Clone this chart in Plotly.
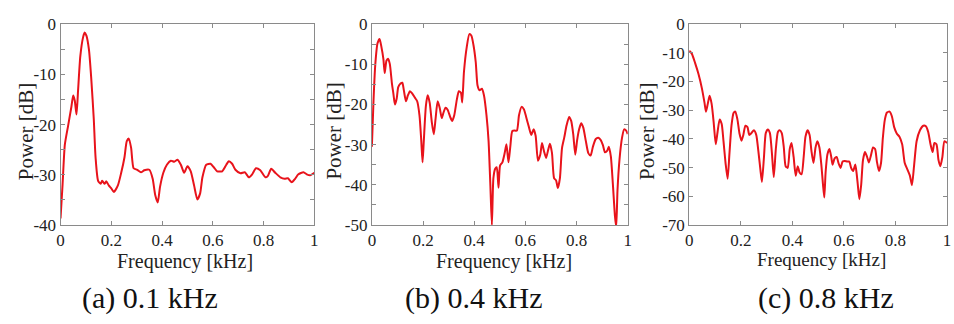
import plotly.graph_objects as go

# ---------------- data ----------------
freq_a = [0, 0.008, 0.017, 0.03, 0.043, 0.05, 0.056, 0.063, 0.069, 0.078, 0.089, 0.095, 0.102, 0.112,
          0.121, 0.131, 0.138, 0.148, 0.158, 0.164, 0.174, 0.18, 0.19, 0.2, 0.21, 0.226, 0.239, 0.252,
          0.261, 0.269, 0.278, 0.288, 0.302, 0.317, 0.33, 0.35, 0.363, 0.373, 0.383, 0.392, 0.405,
          0.419, 0.435, 0.448, 0.461, 0.474, 0.487, 0.5, 0.513, 0.526, 0.539, 0.55, 0.559, 0.574,
          0.591, 0.604, 0.617, 0.637, 0.653, 0.663, 0.676, 0.689, 0.709, 0.726, 0.742, 0.755, 0.77,
          0.787, 0.807, 0.817, 0.83, 0.846, 0.866, 0.883, 0.896, 0.911, 0.924, 0.937, 0.957, 0.97,
          0.983, 1.0]
power_a = [-38.7, -32, -24, -20.2, -16.4, -14.2, -15.2, -18, -13.3, -6.4, -2.6, -1.7, -2.3, -5.1,
           -10.8, -18.9, -26.5, -31.2, -31.8, -31.2, -31.8, -31.3, -32.1, -32.7, -33.4, -32.1, -29.6,
           -26.5, -23.3, -22.8, -24.6, -28.7, -29, -29.5, -29.1, -29, -30.8, -34, -35.5, -32.4, -29.6,
           -28, -27.2, -27.4, -27, -28, -29.6, -28.3, -29.3, -32.1, -34.9, -33.7, -30.5, -28,
           -27.8, -28.5, -29.3, -29.3, -28, -27.3, -27.8, -29, -29.7, -29.5, -30.5, -29.9, -28.7,
           -29.1, -30.5, -30.2, -28.8, -29.6, -30.5, -30.8, -30.7, -31.5, -30.8, -29.9, -29.5, -29.9,
           -30.1, -29.6]

freq_b = [0, 0.006, 0.013, 0.022, 0.03, 0.037, 0.045, 0.05, 0.057, 0.063, 0.07, 0.078, 0.084, 0.09,
          0.097, 0.103, 0.112, 0.119, 0.125, 0.133, 0.141, 0.149, 0.158, 0.168, 0.177, 0.186, 0.193,
          0.198, 0.203, 0.211, 0.218, 0.226, 0.234, 0.242, 0.249, 0.257, 0.265, 0.273, 0.28, 0.288,
          0.296, 0.306, 0.314, 0.322, 0.332, 0.34, 0.348, 0.353, 0.36, 0.371, 0.381, 0.389, 0.397,
          0.406, 0.413, 0.421, 0.43, 0.438, 0.448, 0.456, 0.463, 0.469, 0.475, 0.482, 0.488, 0.495,
          0.501, 0.51, 0.519, 0.526, 0.534, 0.541, 0.549, 0.559, 0.567, 0.575, 0.585, 0.594, 0.603,
          0.614, 0.623, 0.632, 0.64, 0.649, 0.658, 0.665, 0.673, 0.681, 0.689, 0.696, 0.704, 0.712,
          0.72, 0.727, 0.735, 0.743, 0.752, 0.761, 0.771, 0.779, 0.787, 0.795, 0.802, 0.81, 0.818,
          0.826, 0.836, 0.846, 0.855, 0.864, 0.875, 0.885, 0.894, 0.903, 0.911, 0.92, 0.926, 0.934,
          0.942, 0.95, 0.955, 0.96, 0.968, 0.978, 0.986, 0.994, 1.0]
power_b = [-30.5, -19.6, -10.3, -4.8, -3.7, -5.6, -8.7, -12.2, -9.1, -8.6, -9.9, -14.6, -17.3, -20,
           -18.5, -15.7, -14.8, -14.6, -16.5, -19.2, -17.7, -16.7, -17.3, -18.3, -19.2, -22.7, -29,
           -34.4, -29, -20.4, -17.7, -19.6, -24.3, -27.4, -23.5, -19.2, -20.8, -23.4, -22, -20.8,
           -21.3, -23.1, -24.1, -22.7, -18.8, -16.7, -17.1, -19.5, -11.8, -5.6, -2.5, -2.9, -5.2,
           -9.5, -15.3, -16.5, -16.1, -17.7, -22.7, -29, -39.9, -50, -38.3, -36, -35.6, -40.7,
           -35.2, -34.4, -32.1, -29.9, -34.4, -30.5, -26.6, -26.5, -26.5, -22.7, -20.6, -21.2, -23.1,
           -25.7, -27.6, -26.2, -27.8, -34, -32.5, -29.6, -31.7, -33.3, -31.3, -29.8, -32.1, -38.3,
           -38.9, -40.8, -38.3, -30.9, -28.2, -25.2, -23.1, -24.1, -27.4, -32.5, -29, -26.2, -24.7,
           -25.7, -29, -32.1, -32.7, -30.5, -28.6, -28.3, -28.8, -30.1, -31.9, -31.5, -30.5, -32.9,
           -39.9, -47.7, -50.5, -41.4, -33.6, -28.2, -26.2, -26.5, -27.4]

freq_c = [0, 0.01, 0.023, 0.036, 0.049, 0.059, 0.065, 0.072, 0.079, 0.087, 0.095, 0.103, 0.11, 0.118,
          0.126, 0.133, 0.141, 0.149, 0.156, 0.164, 0.172, 0.179, 0.187, 0.195, 0.203, 0.21, 0.218,
          0.226, 0.233, 0.241, 0.251, 0.26, 0.268, 0.276, 0.282, 0.29, 0.297, 0.305, 0.313, 0.321,
          0.328, 0.336, 0.344, 0.351, 0.359, 0.367, 0.374, 0.382, 0.39, 0.397, 0.405, 0.413, 0.421,
          0.428, 0.436, 0.444, 0.451, 0.459, 0.467, 0.474, 0.482, 0.49, 0.497, 0.505, 0.513, 0.519,
          0.524, 0.529, 0.536, 0.544, 0.551, 0.556, 0.564, 0.572, 0.579, 0.587, 0.595, 0.603, 0.613,
          0.621, 0.628, 0.636, 0.644, 0.649, 0.654, 0.66, 0.667, 0.674, 0.682, 0.69, 0.697, 0.705,
          0.713, 0.721, 0.728, 0.736, 0.744, 0.751, 0.759, 0.767, 0.777, 0.786, 0.795, 0.805, 0.815,
          0.826, 0.836, 0.846, 0.856, 0.864, 0.872, 0.882, 0.895, 0.908, 0.918, 0.927, 0.936, 0.944,
          0.951, 0.959, 0.967, 0.974, 0.982, 0.99, 1.0]
power_c = [-9.3, -10.3, -13.6, -17.4, -22.3, -27.2, -30.5, -27.8, -25, -27.8, -34.3, -41.9, -37.6,
           -33.2, -34.8, -40.8, -48.4, -53.9, -45.2, -35.4, -31, -30.5, -33.2, -38.1, -40.6, -38.6,
           -35.4, -35.9, -38.6, -38, -37, -38.6, -44.1, -50.6, -55, -46.3, -38, -36.7, -38, -45.2,
           -53.3, -43.5, -37.6, -37, -38, -43, -49.5, -50.1, -43.5, -41.4, -46.3, -52.8, -49.5,
           -51.7, -52.3, -46.3, -39.2, -37, -38.6, -44.1, -48.4, -43, -40.8, -43, -49.5, -56,
           -60.4, -51.7, -45.4, -43.5, -46.3, -49, -46.8, -46.3, -48.4, -50.1, -47.9, -47.7, -47.9,
           -47.9, -50.1, -51.2, -48.9, -51.7, -56, -61, -56, -47.4, -44.6, -46.3, -48.2, -45.7,
           -43, -43.5, -47.9, -51.2, -48.4, -39.7, -33.2, -30.8, -30.5, -32.1, -35.9, -38.1, -39.2,
           -41.9, -48.4, -50.6, -52.8, -56.1, -49.5, -40.8, -37, -35.4, -35.6, -37.6, -41.9, -44.6,
           -41.4, -41.9, -47.4, -49.5, -46.3, -40.8, -41.4]

x_tickvals = [0, 0.2, 0.4, 0.6, 0.8, 1]
x_ticktext = ["0", "0.2", "0.4", "0.6", "0.8", "1"]
y_tickvals_a = [0, -10, -20, -30, -40]
y_tickvals_b = [0, -10, -20, -30, -40, -50]
y_tickvals_c = [0, -10, -20, -30, -40, -50, -60, -70]
captions = ["(a) 0.1 kHz", "(b) 0.4 kHz", "(c) 0.8 kHz"]
x_title = "Frequency [kHz]"
y_title = "Power [dB]"

# ---------------- figure ----------------
W, H = 954, 324
FONT = "Liberation Serif"
RED = "#e8131b"
GRAY = "#8a8a8a"
TXT = "#222222"

panels = [
    dict(x=freq_a, y=power_a, yt=y_tickvals_a, yr=[-40, 0], minor=5, px=(57, 313),
         ylab_x=23, xlab=(183, 268, 20), cap=(147, 307)),
    dict(x=freq_b, y=power_b, yt=y_tickvals_b, yr=[-50, 0], minor=5, px=(371, 629),
         ylab_x=333, xlab=(504, 268, 20), cap=(473, 307)),
    dict(x=freq_c, y=power_c, yt=y_tickvals_c, yr=[-70, 0], minor=None, px=(691, 951),
         ylab_x=649, xlab=(824, 266, 19), cap=(829, 307)),
]

top_px, bot_px = 16, 229.5
ydom = [1 - bot_px / H, 1 - top_px / H]

fig = go.Figure()
layout = dict(
    width=W, height=H, margin=dict(l=0, r=0, t=0, b=0),
    paper_bgcolor="white", plot_bgcolor="white", showlegend=False,
)
annotations = []
for i, p in enumerate(panels, start=1):
    sfx = "" if i == 1 else str(i)
    fig.add_trace(go.Scatter(x=p["x"], y=p["y"], mode="lines",
                             line=dict(color=RED, width=2, shape="spline", smoothing=0.6),
                             xaxis="x" + sfx, yaxis="y" + sfx))
    xd = [p["px"][0] / W, p["px"][1] / W]
    common = dict(showgrid=False, zeroline=False, showline=True, linecolor=GRAY, linewidth=1,
                  mirror="ticks", ticks="inside", ticklen=4, tickcolor=GRAY, tickwidth=1,
                  tickfont=dict(family=FONT, size=17, color=TXT))
    layout["xaxis" + sfx] = dict(domain=xd, range=[0, 1], anchor="y" + sfx,
                                 tickvals=x_tickvals, ticktext=x_ticktext, **common)
    yax = dict(domain=ydom, range=p["yr"], anchor="x" + sfx,
               tickvals=p["yt"], ticktext=[str(v) for v in p["yt"]], **common)
    if p["minor"]:
        yax["minor"] = dict(dtick=p["minor"], ticks="inside", ticklen=4, tickcolor=GRAY,
                            showgrid=False)
    layout["yaxis" + sfx] = yax
    annotations.append(dict(x=p["ylab_x"] / W, y=1 - 130 / H, xref="paper", yref="paper",
                            text=y_title, textangle=-90, showarrow=False,
                            font=dict(family=FONT, size=21, color=TXT),
                            xanchor="center", yanchor="middle"))
    annotations.append(dict(x=p["xlab"][0] / W, y=1 - p["xlab"][1] / H, xref="paper", yref="paper",
                            text=x_title, showarrow=False,
                            font=dict(family=FONT, size=p["xlab"][2], color=TXT),
                            xanchor="center", yanchor="middle"))
    annotations.append(dict(x=p["cap"][0] / W, y=1 - p["cap"][1] / H, xref="paper", yref="paper",
                            text=captions[i - 1], showarrow=False,
                            font=dict(family=FONT, size=30, color="#111111"),
                            xanchor="center", yanchor="middle"))
layout["annotations"] = annotations
fig.update_layout(**layout)
fig.write_html("out.html")
